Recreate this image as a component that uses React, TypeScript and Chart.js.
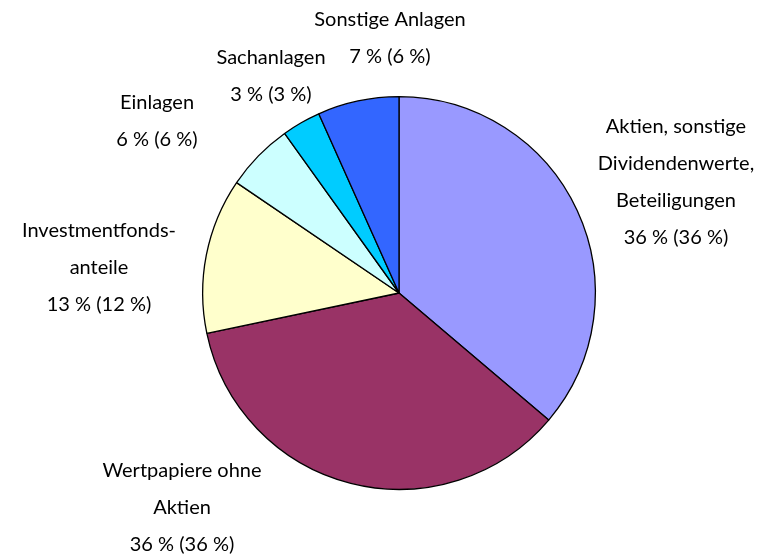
import React, { useEffect, useRef } from "react";
import { Chart, registerables } from "chart.js";

Chart.register(...registerables);

const categories: string[][] = [
  ["Aktien, sonstige", "Dividendenwerte,", "Beteiligungen"],
  ["Wertpapiere ohne", "Aktien"],
  ["Investmentfonds-", "anteile"],
  ["Einlagen"],
  ["Sachanlagen"],
  ["Sonstige Anlagen"],
];
const shares: number[] = [36.2, 35.5, 12.8, 5.6, 3.2, 6.7];
const currentPct: number[] = [36, 36, 13, 6, 3, 7];
const previousPct: number[] = [36, 36, 12, 6, 3, 6];
const colors: string[] = ["#9999FF", "#993366", "#FFFFCC", "#CCFFFF", "#00CCFF", "#3366FF"];

// label block placement (center x, first line y)
const labelPlacement = [
  { x: 676, y: 127 },
  { x: 182, y: 471 },
  { x: 99, y: 231 },
  { x: 157, y: 103 },
  { x: 271, y: 58 },
  { x: 390, y: 20 },
];

const FONT = "20px Lato, 'DejaVu Sans', sans-serif";
const LINE_H = 37;

const labelPlugin = {
  id: "outerLabels",
  afterDraw(chart: any) {
    const ctx = chart.ctx as CanvasRenderingContext2D;
    ctx.save();
    ctx.font = FONT;
    ctx.fillStyle = "#000";
    ctx.textAlign = "center";
    ctx.textBaseline = "middle";
    categories.forEach((lines, i) => {
      const p = labelPlacement[i];
      const all = [...lines, `${currentPct[i]} % (${previousPct[i]} %)`];
      all.forEach((t, k) => {
        ctx.fillText(t, p.x, p.y + k * LINE_H);
      });
    });
    ctx.restore();
  },
};

export default function App() {
  const ref = useRef<HTMLCanvasElement | null>(null);
  useEffect(() => {
    if (!ref.current) return;
    const chart = new Chart(ref.current, {
      type: "pie",
      data: {
        labels: categories.map((c) => c.join(" ")),
        datasets: [
          {
            data: shares,
            backgroundColor: colors,
            borderColor: "#000",
            borderWidth: 1.3,
          },
        ],
      },
      options: {
        responsive: false,
        animation: false,
        layout: { padding: { top: 96, bottom: 66, left: 202, right: 180 } },
        plugins: {
          legend: { display: false },
          tooltip: { enabled: false },
        },
      },
      plugins: [labelPlugin],
    });
    return () => chart.destroy();
  }, []);
  return (
    <div style={{ position: "absolute", left: 0, top: 0, width: 776, height: 556, background: "#fff" }}>
      <canvas ref={ref} width={776} height={556} style={{ width: 776, height: 556 }} />
    </div>
  );
}
